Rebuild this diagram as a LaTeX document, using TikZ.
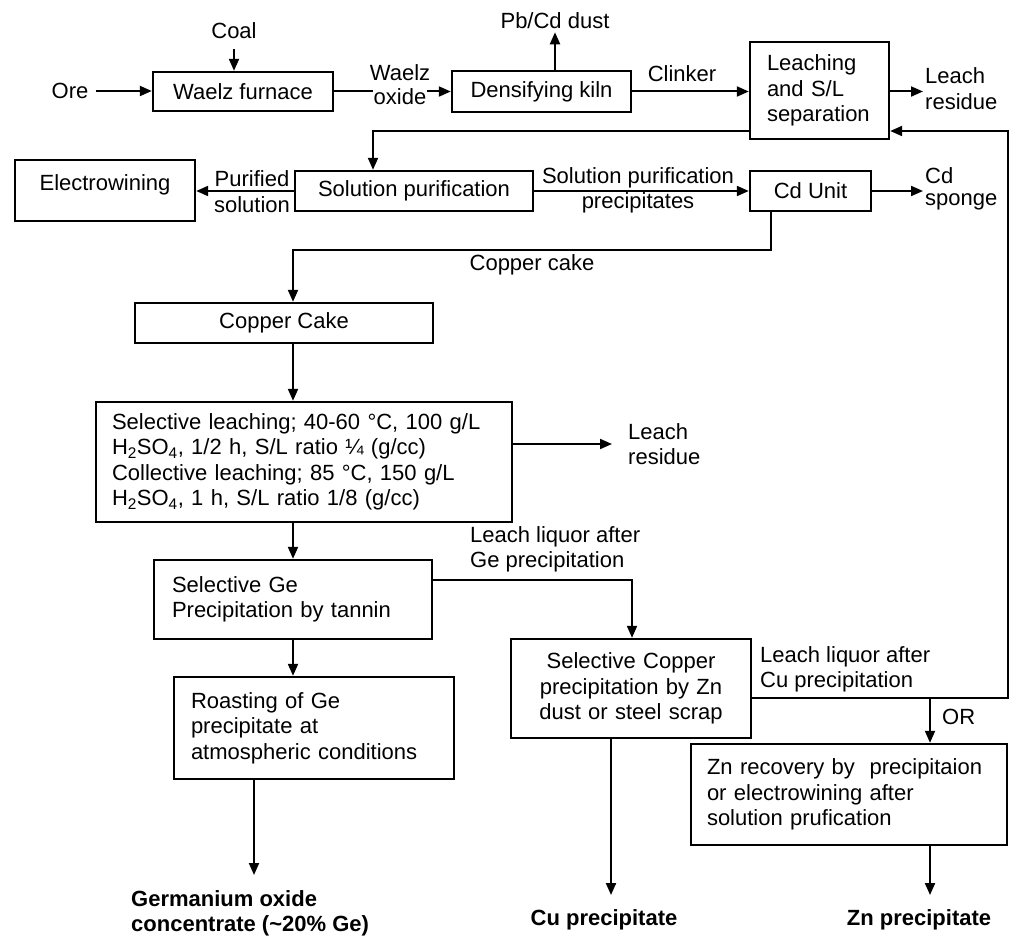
\documentclass[tikz,border=0pt]{standalone}
\usepackage{fontspec}
\setmainfont{Liberation Sans}
\usetikzlibrary{arrows.meta}
\newcommand\bodyfs{\fontsize{22}{25.5}\selectfont}
\begin{document}
\begin{tikzpicture}[x=1pt,y=-1pt,
  box/.style={draw, line width=2.4pt, inner sep=0pt, font=\bodyfs, align=center},
  lbox/.style={box, align=left},
  lbl/.style={inner sep=0pt, font=\bodyfs, align=left},
  clbl/.style={inner sep=0pt, font=\bodyfs, align=center},
  blbl/.style={inner sep=0pt, font=\bodyfs\bfseries, align=left},
  bclbl/.style={inner sep=0pt, font=\bodyfs\bfseries, align=center},
  flow/.style={line width=2pt, -{Triangle[length=12pt,width=10pt]}},
]
\useasboundingbox (0,0) rectangle (1024,947);

% ---- boxes
\node[box, minimum width=180pt, minimum height=39pt] (wf) at (243,91.5) {Waelz furnace};
\node[box, minimum width=179pt, minimum height=41pt] (dk) at (541.5,91.5) {Densifying kiln};
\node[lbox, text width=105pt, inner xsep=17pt, minimum height=97pt] (lsl) at (819.5,90.5) {Leaching\\and S/L\\separation};
\node[box, minimum width=180pt, minimum height=61pt, text depth=16pt] (ew) at (105,190.5) {Electrowining};
\node[box, minimum width=238pt, minimum height=40pt] (sp) at (414,191) {Solution purification};
\node[box, minimum width=121pt, minimum height=40pt] (cd) at (810.5,191) {Cd Unit};
\node[box, minimum width=298pt, minimum height=40pt] (cc) at (284,323) {Copper Cake};
\node[lbox, text width=384pt, inner xsep=16pt, minimum height=120pt] (lb) at (304,462)
  {Selective leaching; 40-60 °C, 100 g/L\\
   H\textsubscript{2}SO\textsubscript{4}, 1/2 h, S/L ratio ¼ (g/cc)\\
   Collective leaching; 85 °C, 150 g/L\\
   H\textsubscript{2}SO\textsubscript{4}, 1 h, S/L ratio 1/8 (g/cc)};
\node[lbox, text width=242pt, inner xsep=18pt, minimum height=79pt] (ge) at (293,599.5) {Selective Ge\\Precipitation by tannin};
\node[lbox, text width=246pt, inner xsep=17pt, minimum height=102pt] (ro) at (314,728) {Roasting of Ge\\precipitate at\\atmospheric conditions};
\node[box, text width=220pt, inner xsep=10pt, minimum height=99pt] (cu) at (631,688.5) {Selective Copper\\precipitation by Zn\\dust or steel scrap};
\node[lbox, text width=284pt, inner xsep=16pt, minimum height=101pt] (zn) at (849,794.5) {Zn recovery by\ \ precipitaion\\or electrowining after\\solution prufication};

% ---- top row
\node[clbl] (ore) at (70,91) {Ore};
\draw[flow, shorten <=7pt] (ore.east) -- (ore.east -| wf.west);
\node[clbl] (coal) at (234,31) {Coal};
\draw[flow, shorten <=10pt] (coal.south) -- (coal.south |- wf.north);
\draw[flow] (wf.east) -- (dk.west);
\node[clbl, fill=white, inner sep=0.5pt] (oxide) at (400,97) {oxide};
\node[clbl] (waelz) at (400,73) {Waelz};
\node[clbl] (pb) at (555,21) {Pb/Cd dust};
\draw[flow, shorten >=3pt] (pb.south |- dk.north) -- (pb.south);
\node[clbl] (clk) at (682,74) {Clinker};
\draw[flow] (dk.east) -- (dk.east -| lsl.west);
\node[lbl, anchor=west] (res1) at (925,88.5) {Leach\\residue};
\draw[flow, shorten >=2pt] (dk.east -| lsl.east) -- (dk.east -| res1.west);

% ---- recycle loop and feed to purification
\coordinate (rA) at (1008,698);
\coordinate (rB) at (1008,131);
\coordinate (rC) at (373,131);
\draw[flow] (cu.east |- rA) -- (rA) -- (rB) -- (rB -| lsl.east);
\draw[flow] (rB -| lsl.west) -- (rC) -- (rC |- sp.north);

% ---- second row
\draw[flow] (sp.west) -- (sp.west -| ew.east);
\node[clbl] (pur) at (252,191.5) {Purified\\solution};
\draw[flow] (sp.east) -- (cd.west);
\node[clbl] (spp) at (638,190.5) {Solution purification\\precipitates};
\node[lbl, anchor=west, font=\fontsize{22}{22}\selectfont] (cds) at (925,189) {Cd\\sponge};
\draw[flow, shorten >=2pt] (cd.east) -- (cd.east -| cds.west);

% ---- copper cake
\coordinate (cA) at (771,250);
\coordinate (cB) at (293,250);
\draw[flow] (cA |- cd.south) -- (cA) -- (cB) -- (cB |- cc.north);
\node[clbl] (cclbl) at (532,265) {Copper cake};
\draw[flow] (cB |- cc.south) -- (cB |- lb.north);

% ---- leaching
\node[lbl, anchor=west] (res2) at (628,444) {Leach\\residue};
\draw[flow, shorten >=16pt] (lb.east |- res2.west) -- (res2.west);
\draw[flow] (cB |- lb.south) -- (cB |- ge.north);
\node[lbl, anchor=west] (llge) at (470,549.5) {Leach liquor after\\Ge precipitation};

% ---- Ge / Cu branches
\coordinate (gA) at (632,580);
\draw[flow] (ge.east |- gA) -- (gA) -- (gA |- cu.north);
\draw[flow] (cB |- ge.south) -- (cB |- ro.north);
\node[lbl, anchor=west] (llcu) at (760,669.5) {Leach liquor after\\Cu precipitation};
\coordinate (orA) at (930,698);
\draw[flow] (orA) -- (orA |- zn.north);
\node[lbl, anchor=west] (or) at (942,717) {OR};

% ---- products
\coordinate (geEnd) at (254,875);
\coordinate (cuEnd) at (611,895);
\coordinate (znEnd) at (930,895);
\draw[flow] (ro.south -| geEnd) -- (geEnd);
\draw[flow] (cu.south -| cuEnd) -- (cuEnd);
\draw[flow] (zn.south -| znEnd) -- (znEnd);
\node[blbl, anchor=north west] (geo) at (131,890) {Germanium oxide\\concentrate (\textasciitilde 20\% Ge)};
\node[bclbl] (cup) at (604,920) {Cu precipitate};
\node[bclbl] (znp) at (919,920) {Zn precipitate};
\end{tikzpicture}
\end{document}
